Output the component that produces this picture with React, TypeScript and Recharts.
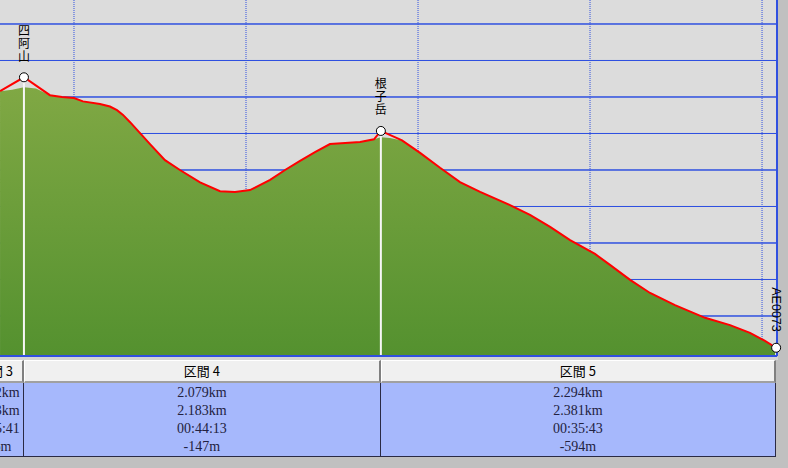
import {
  ComposedChart,
  Area,
  Line,
  Scatter,
  XAxis,
  YAxis,
  CartesianGrid,
  ReferenceLine,
} from "recharts";

// distance along the route (km) and elevation (m)
const distanceKm = [
  8.57, 8.64, 8.709, 8.779, 8.86, 8.93, 9.0, 9.052, 9.151, 9.209, 9.25, 9.285,
  9.326, 9.384, 9.442, 9.529, 9.616, 9.733, 9.849, 9.936, 10.023, 10.14, 10.227,
  10.314, 10.401, 10.488, 10.576, 10.663, 10.744, 10.784, 10.837, 10.907, 11.012,
  11.128, 11.244, 11.361, 11.535, 11.651, 11.768, 11.884, 12.029, 12.116, 12.233,
  12.349, 12.494, 12.669, 12.814, 12.93, 13.017, 13.082,
];
const groundElev = [
  2316, 2320, 2327, 2323, 2305, 2300, 2297, 2288, 2281, 2274, 2264, 2251, 2231,
  2201, 2171, 2127, 2100, 2066, 2042, 2040, 2045, 2073, 2100, 2125, 2149, 2171,
  2174, 2177, 2184, 2190, 2188, 2181, 2147, 2106, 2067, 2040, 2004, 1977, 1944,
  1908, 1870, 1840, 1799, 1763, 1730, 1695, 1675, 1654, 1632, 1613,
];
// recorded track; null where it leaves the ground line around a summit
const trackElev = [
  2316, null, 2354, null, 2305, 2300, 2297, 2288, 2281, 2274, 2264, 2251, 2231,
  2201, 2171, 2127, 2100, 2066, 2042, 2040, 2045, 2073, 2100, 2125, 2149, 2171,
  2174, 2177, 2184, 2207, null, 2181, 2147, 2106, 2067, 2040, 2004, 1977, 1944,
  1908, 1870, 1840, 1799, 1763, 1730, 1695, 1675, 1654, 1632, 1613,
];

const waypointNames = ["四阿山", "根子岳", "AE0073"];
const waypointKm = [8.709, 10.784, 13.082];
const waypointElev = [2354, 2207, 1613];

const sectionNames = ["区間 3", "区間 4", "区間 5"];
const sectionStart = [8.378, 8.709, 10.784];
const sectionEnd = [8.709, 10.784, 13.082];
const sectionDist = ["0.332km", "2.079km", "2.294km"];
const sectionSlope = ["0.353km", "2.183km", "2.381km"];
const sectionTime = ["00:15:41", "00:44:13", "00:35:43"];
const sectionDiff = ["+76m", "-147m", "-594m"];

const kmTicks = [9, 10, 11, 12, 13];
const elevTicks = [1600, 1700, 1800, 1900, 2000, 2100, 2200, 2300, 2400, 2500];

const X_MIN = 8.5698;
const X_MAX = 13.087;
const Y_MIN = 1590.4;
const Y_MAX = 2565.75;
const PLOT_W = 777;
const BLUE = "#3050e0";

const groundRows = distanceKm.map((d, i) => ({ d, ground: groundElev[i] }));
const trackRows = distanceKm
  .map((d, i) => ({ d, track: trackElev[i] }))
  .filter((r) => r.track !== null);
const waypoints = waypointNames.map((name, i) => ({
  name,
  d: waypointKm[i],
  elev: waypointElev[i],
}));

const toPx = (d: number) => ((d - X_MIN) / (X_MAX - X_MIN)) * PLOT_W;

const WaypointMark = (props: any) => {
  const { cx, cy, payload } = props;
  const name: string = payload?.name ?? "";
  if (!name) return <g />;
  const isCjk = /[\u3040-\u9fff]/.test(name);
  return (
    <g>
      <circle cx={cx} cy={cy} r={4.5} fill="#ffffff" stroke="#000000" strokeWidth={1} />
      {isCjk ? (
        <text
          textAnchor="middle"
          fontFamily="'Noto Sans CJK JP', sans-serif"
          fontSize={12}
          fill="#000"
        >
          {name.split("").map((ch, k) => (
            <tspan key={k} x={cx} y={cy - 16.5 - (name.length - 1 - k) * 13}>
              {ch}
            </tspan>
          ))}
        </text>
      ) : (
        <text
          x={cx - 4}
          y={cy - 16}
          textAnchor="end"
          transform={`rotate(90, ${cx - 4}, ${cy - 16})`}
          fontFamily="'Liberation Sans', sans-serif"
          fontSize={12.5}
          fill="#000"
        >
          {name}
        </text>
      )}
    </g>
  );
};

export default function App() {
  return (
    <div
      style={{
        position: "absolute",
        left: 0,
        top: 0,
        width: 788,
        height: 468,
        background: "#c0c0c0",
        overflow: "hidden",
      }}
    >
      <ComposedChart
        width={788}
        height={357}
        data={groundRows}
        margin={{ top: 0, right: 11, bottom: 1, left: 0 }}
      >
        <defs>
          <linearGradient id="terrainFill" x1="0" y1="0" x2="0" y2="1">
            <stop offset="0%" stopColor="#80a844" />
            <stop offset="100%" stopColor="#54912f" />
          </linearGradient>
        </defs>
        <XAxis type="number" dataKey="d" domain={[X_MIN, X_MAX]} hide />
        <YAxis type="number" domain={[Y_MIN, Y_MAX]} hide />
        <CartesianGrid
          fill="#dcdcdc"
          vertical={false}
          horizontalValues={elevTicks}
          stroke={BLUE}
        />
        <Area
          type="linear"
          dataKey="ground"
          stroke="none"
          fill="url(#terrainFill)"
          fillOpacity={1}
          dot={false}
          activeDot={false}
          isAnimationActive={false}
        />
        <CartesianGrid
          horizontal={false}
          verticalValues={kmTicks}
          stroke={BLUE}
          strokeDasharray="1 1"
        />
        <CartesianGrid
          vertical={false}
          horizontalValues={elevTicks}
          stroke={BLUE}
        />
        {waypoints.map((w) => (
          <ReferenceLine
            key={w.name}
            segment={[
              { x: w.d, y: w.elev },
              { x: w.d, y: Y_MIN },
            ]}
            stroke="#f6f6f6"
            strokeWidth={2}
          />
        ))}
        <ReferenceLine x={X_MAX} stroke={BLUE} strokeWidth={2} />
        <ReferenceLine y={Y_MIN} stroke={BLUE} strokeWidth={2} />
        <Line
          data={trackRows}
          type="linear"
          dataKey="track"
          stroke="#ff0000"
          strokeWidth={2}
          dot={false}
          activeDot={false}
          isAnimationActive={false}
        />
        <Scatter
          data={waypoints}
          dataKey="elev"
          shape={WaypointMark}
          isAnimationActive={false}
        />
      </ComposedChart>
      <div
        style={{
          position: "absolute",
          left: 0,
          top: 357,
          width: 778,
          height: 3,
          background: "#d4d4d4",
        }}
      />
      {sectionNames.map((name, i) => {
        const left = toPx(sectionStart[i]);
        const right = Math.min(toPx(sectionEnd[i]), 776);
        const width = right - left;
        return (
          <div key={name}>
            <div
              style={{
                position: "absolute",
                left,
                top: 360,
                width,
                height: 23,
                boxSizing: "border-box",
                background: "#f0f0f0",
                borderTop: "1px solid #ffffff",
                borderLeft: "1px solid #ffffff",
                borderRight: "2px solid #808080",
                borderBottom: "2px solid #a0a0a0",
                fontFamily: "'Noto Sans CJK JP', sans-serif",
                fontSize: 13,
                lineHeight: "20px",
                textAlign: "center",
                color: "#000",
                whiteSpace: "nowrap",
              }}
            >
              {name}
            </div>
            <div
              style={{
                position: "absolute",
                left,
                top: 383,
                width,
                height: 74,
                boxSizing: "border-box",
                paddingTop: 1,
                background: "#a6b8fc",
                borderRight: "1px solid #2a2a44",
                borderBottom: "1px solid #2a2a44",
                fontFamily: "'Liberation Serif', serif",
                fontSize: 14,
                lineHeight: "18px",
                textAlign: "center",
                color: "#222240",
                whiteSpace: "nowrap",
              }}
            >
              <div>{sectionDist[i]}</div>
              <div>{sectionSlope[i]}</div>
              <div>{sectionTime[i]}</div>
              <div>{sectionDiff[i]}</div>
            </div>
          </div>
        );
      })}
    </div>
  );
}
